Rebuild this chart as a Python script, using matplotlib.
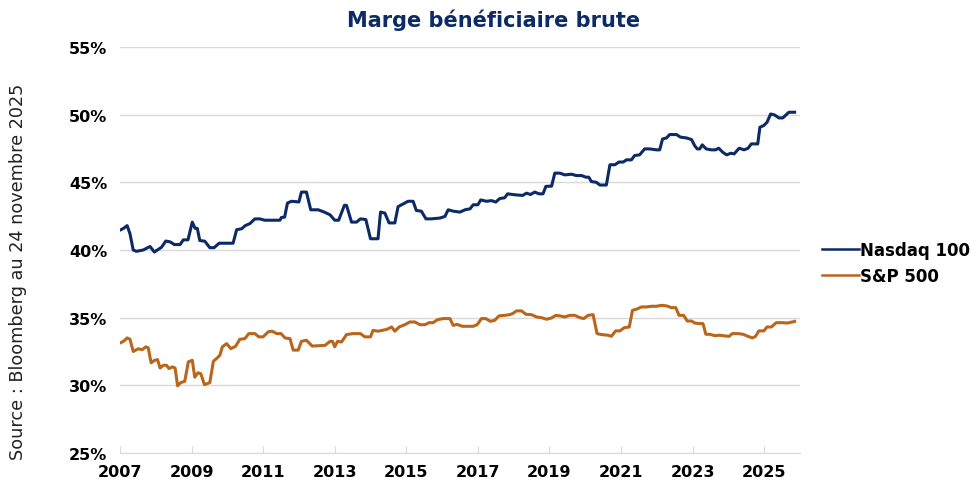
import matplotlib.pyplot as plt
from matplotlib.ticker import FuncFormatter

# -------------------
# Data (decimal years / %)
# -------------------
ndx_years = [2007.03, 2007.1, 2007.2, 2007.28, 2007.37, 2007.46, 2007.65, 2007.84, 2007.96,
             2008.16, 2008.28, 2008.4, 2008.52, 2008.68, 2008.77, 2008.9, 2009.02, 2009.1,
             2009.16, 2009.23, 2009.37, 2009.51, 2009.63, 2009.77, 2010.16, 2010.26, 2010.4,
             2010.5, 2010.63, 2010.77, 2010.9, 2011.05, 2011.33, 2011.47, 2011.51, 2011.6,
             2011.68, 2011.79, 2012.0, 2012.07, 2012.21, 2012.33, 2012.54, 2012.71, 2012.87,
             2013.0, 2013.11, 2013.27, 2013.33, 2013.47, 2013.61, 2013.72, 2013.87, 2014.0,
             2014.21, 2014.28, 2014.4, 2014.52, 2014.68, 2014.77, 2014.91, 2015.05, 2015.19,
             2015.28, 2015.42, 2015.55, 2015.7, 2015.94, 2016.08, 2016.17, 2016.31, 2016.5,
             2016.64, 2016.78, 2016.87, 2017.0, 2017.08, 2017.24, 2017.38, 2017.5, 2017.61,
             2017.75, 2017.83, 2018.03, 2018.25, 2018.36, 2018.47, 2018.59, 2018.71, 2018.82,
             2018.9, 2019.06, 2019.15, 2019.29, 2019.43, 2019.62, 2019.75, 2019.9, 2020.02,
             2020.1, 2020.17, 2020.31, 2020.41, 2020.59, 2020.69, 2020.83, 2020.94, 2021.06,
             2021.15, 2021.29, 2021.38, 2021.52, 2021.66, 2021.8, 2021.99, 2022.08, 2022.16,
             2022.27, 2022.36, 2022.55, 2022.66, 2022.83, 2022.97, 2023.06, 2023.13, 2023.2,
             2023.27, 2023.38, 2023.52, 2023.64, 2023.73, 2023.84, 2023.95, 2024.07, 2024.16,
             2024.3, 2024.44, 2024.55, 2024.64, 2024.82, 2024.88, 2024.99, 2025.08, 2025.18,
             2025.29, 2025.41, 2025.52, 2025.69, 2025.85]
ndx_margin = [41.5, 41.6, 41.8, 41.2, 40.0, 39.9, 40.0, 40.26, 39.85,
              40.2, 40.66, 40.6, 40.4, 40.4, 40.75, 40.75, 42.06, 41.6,
              41.6, 40.7, 40.65, 40.17, 40.17, 40.5, 40.5, 41.5, 41.57,
              41.8, 41.95, 42.3, 42.3, 42.2, 42.2, 42.2, 42.4, 42.43,
              43.47, 43.6, 43.55, 44.28, 44.28, 42.97, 42.97, 42.8, 42.6,
              42.2, 42.2, 43.3, 43.3, 42.06, 42.06, 42.3, 42.25, 40.83,
              40.83, 42.8, 42.73, 42.0, 42.0, 43.2, 43.4, 43.6, 43.6,
              42.92, 42.87, 42.3, 42.3, 42.36, 42.48, 42.97, 42.87, 42.8,
              42.97, 43.04, 43.34, 43.34, 43.7, 43.6, 43.65, 43.54, 43.8,
              43.86, 44.15, 44.08, 44.03, 44.2, 44.1, 44.28, 44.15, 44.15,
              44.7, 44.72, 45.68, 45.68, 45.55, 45.6, 45.5, 45.5, 45.38,
              45.38, 45.06, 45.0, 44.8, 44.8, 46.3, 46.3, 46.5, 46.5,
              46.66, 46.66, 46.98, 47.03, 47.47, 47.47, 47.4, 47.4, 48.2,
              48.28, 48.53, 48.53, 48.34, 48.28, 48.16, 47.7, 47.47, 47.47,
              47.77, 47.47, 47.4, 47.4, 47.52, 47.23, 47.03, 47.15, 47.1,
              47.52, 47.4, 47.52, 47.84, 47.84, 49.07, 49.2, 49.44, 50.05,
              49.98, 49.76, 49.76, 50.18, 50.18]

spx_years = [2007.0, 2007.1, 2007.2, 2007.28, 2007.37, 2007.51, 2007.62, 2007.72, 2007.79,
             2007.87, 2007.97, 2008.05, 2008.12, 2008.21, 2008.3, 2008.37, 2008.46, 2008.54,
             2008.61, 2008.7, 2008.81, 2008.91, 2009.02, 2009.09, 2009.18, 2009.26, 2009.36,
             2009.51, 2009.61, 2009.7, 2009.79, 2009.86, 2009.98, 2010.1, 2010.23, 2010.35,
             2010.49, 2010.6, 2010.77, 2010.88, 2011.0, 2011.14, 2011.25, 2011.38, 2011.5,
             2011.61, 2011.75, 2011.84, 2011.98, 2012.07, 2012.21, 2012.37, 2012.73, 2012.87,
             2012.94, 2013.0, 2013.08, 2013.19, 2013.33, 2013.51, 2013.72, 2013.84, 2014.0,
             2014.07, 2014.21, 2014.33, 2014.46, 2014.59, 2014.68, 2014.8, 2014.96, 2015.1,
             2015.24, 2015.38, 2015.52, 2015.64, 2015.75, 2015.87, 2016.03, 2016.22, 2016.31,
             2016.42, 2016.57, 2016.87, 2016.98, 2017.1, 2017.22, 2017.35, 2017.47, 2017.59,
             2017.75, 2017.89, 2017.97, 2018.08, 2018.22, 2018.34, 2018.5, 2018.64, 2018.78,
             2018.92, 2019.06, 2019.18, 2019.29, 2019.43, 2019.57, 2019.71, 2019.85, 2019.96,
             2020.08, 2020.22, 2020.33, 2020.45, 2020.64, 2020.73, 2020.85, 2020.97, 2021.09,
             2021.23, 2021.32, 2021.45, 2021.57, 2021.71, 2021.85, 2021.99, 2022.13, 2022.27,
             2022.41, 2022.53, 2022.62, 2022.75, 2022.85, 2022.97, 2023.06, 2023.18, 2023.29,
             2023.37, 2023.48, 2023.62, 2023.76, 2023.9, 2024.02, 2024.11, 2024.27, 2024.41,
             2024.52, 2024.67, 2024.76, 2024.85, 2024.99, 2025.08, 2025.2, 2025.34, 2025.5,
             2025.65, 2025.85]
spx_margin = [33.13, 33.25, 33.5, 33.4, 32.5, 32.7, 32.63, 32.84, 32.77,
              31.66, 31.85, 31.9, 31.28, 31.48, 31.48, 31.24, 31.36, 31.28,
              29.96, 30.2, 30.3, 31.73, 31.85, 30.6, 30.93, 30.85, 30.05,
              30.2, 31.78, 31.98, 32.22, 32.84, 33.08, 32.71, 32.88, 33.4,
              33.45, 33.82, 33.82, 33.58, 33.58, 33.95, 34.0, 33.82, 33.82,
              33.5, 33.45, 32.6, 32.6, 33.25, 33.33, 32.9, 32.95, 33.25,
              33.25, 32.84, 33.25, 33.2, 33.75, 33.82, 33.82, 33.58, 33.58,
              34.06, 34.0, 34.06, 34.14, 34.31, 34.0, 34.31, 34.48, 34.68,
              34.68, 34.48, 34.48, 34.63, 34.63, 34.85, 34.93, 34.93, 34.43,
              34.5, 34.36, 34.36, 34.48, 34.93, 34.93, 34.73, 34.8, 35.13,
              35.17, 35.22, 35.3, 35.5, 35.5, 35.25, 35.22, 35.05, 35.0,
              34.88, 34.98, 35.17, 35.13, 35.05, 35.17, 35.17, 35.0, 34.93,
              35.17, 35.22, 33.82, 33.75, 33.7, 33.62, 34.02, 34.02, 34.26,
              34.31, 35.54, 35.64, 35.79, 35.79, 35.84, 35.84, 35.91, 35.87,
              35.74, 35.74, 35.17, 35.17, 34.75, 34.75, 34.6, 34.56, 34.56,
              33.77, 33.77, 33.67, 33.7, 33.65, 33.62, 33.82, 33.82, 33.77,
              33.65, 33.5, 33.62, 34.02, 34.02, 34.31, 34.31, 34.63, 34.63,
              34.6, 34.72]

year_ticks = [2007, 2009, 2011, 2013, 2015, 2017, 2019, 2021, 2023, 2025]
pct_ticks = [25, 30, 35, 40, 45, 50, 55]

navy = "#0b2a66"
orange = "#b9661c"

# -------------------
# Plot
# -------------------
fig = plt.figure(figsize=(9.77, 4.85), dpi=100)
ax = fig.add_axes([0.1228, 0.064, 0.696, 0.837])

ax.plot(ndx_years, ndx_margin, color=navy, lw=2.2, label="Nasdaq 100")
ax.plot(spx_years, spx_margin, color=orange, lw=2.2, label="S&P 500")

ax.set_xlim(2007, 2026)
ax.set_ylim(25, 55)
ax.set_xticks(year_ticks)
ax.set_yticks(pct_ticks)
ax.yaxis.set_major_formatter(FuncFormatter(lambda v, p: f"{v:.0f}%"))

ax.grid(axis="y", color="#d9d9d9", lw=1)
ax.set_axisbelow(True)
for s in ["top", "right", "left"]:
    ax.spines[s].set_visible(False)
ax.spines["bottom"].set_color("#d9d9d9")
ax.tick_params(axis="x", direction="in", length=5, color="#d9d9d9", pad=8)
ax.tick_params(axis="y", length=0, pad=9)
for lbl in ax.get_xticklabels() + ax.get_yticklabels():
    lbl.set_fontweight("bold")
    lbl.set_fontsize(11.5)

fig.text(0.505, 0.958, "Marge bénéficiaire brute", ha="center", va="center",
         fontsize=15, fontweight="bold", color="#0b2a66")
fig.text(0.018, 0.44, "Source : Bloomberg au 24 novembre 2025", rotation=90,
         ha="center", va="center", fontsize=12.7, color="#222222")

fig.legend(loc="center left", bbox_to_anchor=(0.826, 0.456), frameon=False,
           handlelength=2.2, handletextpad=0.05, labelspacing=0.45,
           prop={"weight": "bold", "size": 12})
leg = fig.legends[0]
for h in leg.get_lines():
    h.set_linewidth(1.8)

plt.savefig("out.png", dpi=100)
plt.close()
